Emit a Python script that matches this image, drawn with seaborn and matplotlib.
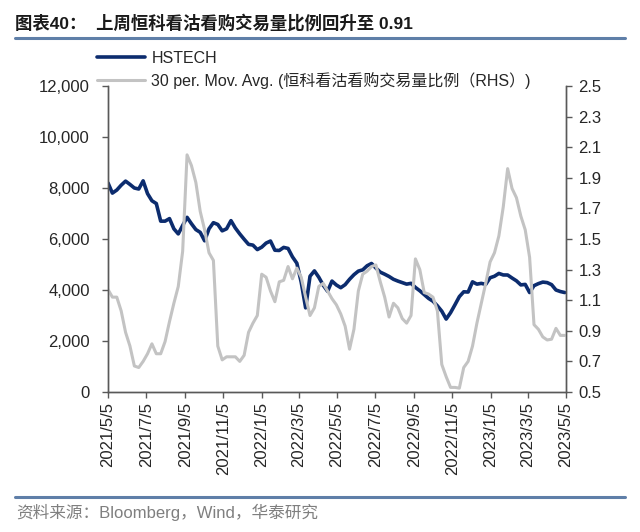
import pandas as pd
import matplotlib
matplotlib.use("Agg")
import matplotlib.pyplot as plt
from matplotlib.lines import Line2D
from matplotlib.ticker import FuncFormatter, MultipleLocator
import seaborn as sns

# 周度取样
START_DATE = "2021-05-05"
hstech = [
    8200, 7800, 7920, 8110, 8270, 8140, 8000, 7960, 8280, 7780,
    7500, 7390, 6700, 6700, 6800, 6400, 6200, 6530, 6850, 6600,
    6370, 6260, 5930, 6400, 6640, 6570, 6320, 6400, 6720, 6430,
    6200, 5990, 5790, 5760, 5585, 5680, 5840, 5920, 5560, 5550,
    5670, 5630, 5300, 5050, 4300, 3300, 4540, 4750, 4500, 4190,
    3950, 4350, 4196, 4090, 4210, 4420, 4600, 4740, 4790, 4950,
    5040, 4860, 4700, 4620, 4530, 4420, 4350, 4290, 4230, 4262,
    4100, 3970, 3820, 3670, 3560, 3380, 3170, 2860, 3110, 3420,
    3740, 3930, 3920, 4320, 4230, 4260, 4220, 4480, 4540, 4650,
    4590, 4588, 4470, 4360, 4200, 4220, 3900, 4170, 4250, 4310,
    4290, 4210, 4000, 3940, 3900,
]
put_call_ratio = [
    1.17, 1.12, 1.12, 1.03, 0.89, 0.80, 0.67, 0.66, 0.70, 0.75,
    0.815, 0.75, 0.75, 0.83, 0.96, 1.08, 1.19, 1.42, 2.05, 1.98,
    1.87, 1.68, 1.56, 1.41, 1.36, 0.80, 0.71, 0.73, 0.73, 0.73,
    0.70, 0.74, 0.89, 0.95, 1.00, 1.27, 1.25, 1.16, 1.09, 1.22,
    1.23, 1.32, 1.24, 1.31, 1.25, 1.12, 1.00, 1.05, 1.19, 1.21,
    1.16, 1.11, 1.07, 1.01, 0.93, 0.78, 0.91, 1.16, 1.27, 1.29,
    1.32, 1.33, 1.22, 1.12, 0.99, 1.08, 1.05, 0.98, 0.95, 1.00,
    1.37, 1.30, 1.15, 1.14, 1.12, 1.03, 0.68, 0.60, 0.53, 0.53,
    0.525, 0.66, 0.70, 0.80, 0.95, 1.08, 1.21, 1.35, 1.41, 1.52,
    1.71, 1.96, 1.83, 1.77, 1.65, 1.56, 1.38, 0.94, 0.91, 0.86,
    0.84, 0.845, 0.916, 0.87, 0.87,
]
tick_labels = [
    "2021/5/5", "2021/7/5", "2021/9/5", "2021/11/5", "2022/1/5",
    "2022/3/5", "2022/5/5", "2022/7/5", "2022/9/5", "2022/11/5",
    "2023/1/5", "2023/3/5", "2023/5/5",
]
right_ticks = [0.5, 0.7, 0.9, 1.1, 1.3, 1.5, 1.7, 1.9, 2.1, 2.3, 2.5]

TITLE = "图表40：  上周恒科看沽看购交易量比例回升至 0.91"
SOURCE = "资料来源：Bloomberg，Wind，华泰研究"
LABEL_1 = "HSTECH"
LABEL_2 = "30 per. Mov. Avg. (恒科看沽看购交易量比例（RHS）)"

NAVY = "#0C2C6E"
GRAY = "#C3C3C3"
RULE = "#5F7FA8"
AXIS = "#595959"

df = pd.DataFrame({
    "date": pd.date_range(START_DATE, periods=len(hstech), freq="7D"),
    "hstech": hstech,
    "ratio": put_call_ratio,
})

sns.set_theme(style="ticks")
plt.rcParams["font.family"] = ["Liberation Sans", "Noto Sans CJK SC"]

fig = plt.figure(figsize=(6.4, 5.32), dpi=100)
ax = fig.add_axes([108 / 640, 1 - 392 / 532, 458 / 640, 306 / 532])
ax2 = ax.twinx()

sns.lineplot(data=df, x="date", y="hstech", ax=ax, color=NAVY, lw=2.6)
sns.lineplot(data=df, x="date", y="ratio", ax=ax2, color=GRAY, lw=2.2)

ticks = pd.to_datetime(tick_labels, format="%Y/%m/%d")
ax.set_xlim(ticks[0], ticks[-1])
ax.set_xticks(ticks)
ax.set_xticklabels(tick_labels, rotation=90)

ax.set_ylim(0, 12000)
ax.yaxis.set_major_locator(MultipleLocator(2000))
ax.yaxis.set_major_formatter(FuncFormatter(lambda v, p: f"{v:,.0f}"))
ax2.set_ylim(0.5, 2.5)
ax2.set_yticks(right_ticks)
ax2.yaxis.set_major_formatter(FuncFormatter(lambda v, p: f"{v:.1f}"))

for a in (ax, ax2):
    a.set_xlabel("")
    a.set_ylabel("")
    a.spines["top"].set_visible(False)
    for s in ("left", "right", "bottom"):
        a.spines[s].set_color(AXIS)
        a.spines[s].set_linewidth(1.0)
    a.tick_params(direction="out", length=4, width=1, color=AXIS,
                  labelsize=12, labelcolor="#262626")
ax.tick_params(axis="y", pad=9)
ax.tick_params(axis="x", pad=3)
ax2.tick_params(axis="y", pad=5)

handles = [Line2D([], [], color=NAVY, lw=2.6), Line2D([], [], color=GRAY, lw=2.2)]
fig.legend(handles, [LABEL_1, LABEL_2], loc="upper left",
           bbox_to_anchor=(97 / 640, 1 - 51 / 532), frameon=False,
           fontsize=11.5, handlelength=3.0, handletextpad=0.4,
           labelspacing=0.35, borderpad=0, borderaxespad=0)

fig.text(15 / 640, 1 - 23 / 532, TITLE, fontsize=12.5, fontweight="bold",
         va="center", ha="left", color="#1A1A1A")
fig.add_artist(Line2D([15 / 640, 625 / 640], [1 - 38 / 532] * 2,
                      color=RULE, lw=2.2))
fig.add_artist(Line2D([15 / 640, 625 / 640], [1 - 497 / 532] * 2,
                      color=RULE, lw=2.2))
fig.text(16 / 640, 1 - 512 / 532, SOURCE, fontsize=12, va="center",
         ha="left", color="#7F7F7F")

fig.savefig("out.png", dpi=100)
